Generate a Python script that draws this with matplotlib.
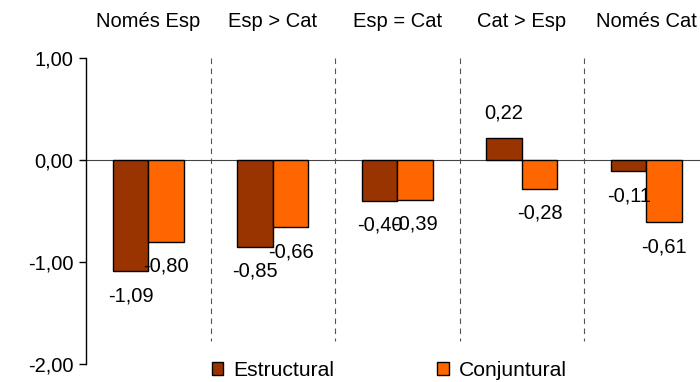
import matplotlib
matplotlib.use("Agg")
import matplotlib.pyplot as plt
from matplotlib.patches import Patch

categories = ['Només Esp', 'Esp > Cat', 'Esp = Cat', 'Cat > Esp', 'Només Cat']
estructural = [-1.09, -0.85, -0.40, 0.22, -0.11]
conjuntural = [-0.80, -0.66, -0.39, -0.28, -0.61]
yticks = [1.0, 0.0, -1.0, -2.0]

c_est = '#993300'
c_con = '#FF6600'

def fmt(v):
    return f"{v:.2f}".replace('.', ',')

plt.rcParams['font.family'] = ['Liberation Sans', 'DejaVu Sans']
fs = 14.5

fig = plt.figure(figsize=(7.0, 3.82), dpi=100)
ax = fig.add_axes([0.123, 0.047, 0.877, 0.801])

w = 0.285
x = list(range(len(categories)))
b1 = ax.bar([i - w / 2 for i in x], estructural, w, color=c_est, edgecolor='black', linewidth=1.0, zorder=3)
b2 = ax.bar([i + w / 2 for i in x], conjuntural, w, color=c_con, edgecolor='black', linewidth=1.0, zorder=3)

# etiquetes de valor
for bars, vals in ((b1, estructural), (b2, conjuntural)):
    for b, v in zip(bars, vals):
        off = 18 if v >= 0 else -17.5
        ax.annotate(fmt(v), (b.get_x() + b.get_width() / 2, v), xytext=(0, off),
                    textcoords='offset points', ha='center', va='center', fontsize=fs, zorder=5)

# separadors discontinus
for s in [0.5, 1.5, 2.5, 3.5]:
    ax.plot([s, s], [1.0, -1.77], color='#555555', lw=0.8, ls=(0, (5, 4)), zorder=1)

ax.axhline(0, color='#444444', lw=0.8, zorder=2)

# categories a dalt
for i, c in enumerate(categories):
    ax.text(i, 1.118, c, transform=ax.get_xaxis_transform(), ha='center', va='center', fontsize=fs)

ax.set_xlim(-0.5, 4.43)
ax.set_ylim(-2.0, 1.0)
ax.set_yticks(yticks)
ax.set_yticklabels([fmt(t) for t in yticks], fontsize=fs)
ax.set_xticks([])
ax.tick_params(axis='y', direction='out', length=5, width=1, color='black', pad=4)
for sp in ['top', 'right', 'bottom']:
    ax.spines[sp].set_visible(False)
ax.spines['left'].set_linewidth(1.0)
ax.spines['left'].set_color('black')

handles = [Patch(facecolor=c_est, edgecolor='black', linewidth=1.0),
           Patch(facecolor=c_con, edgecolor='black', linewidth=1.0)]
fig.legend(handles, ['Estructural', 'Conjuntural'], loc='center', bbox_to_anchor=(0.556, 0.031),
           ncol=2, frameon=False, fontsize=15.2, handlelength=0.55, handleheight=0.55,
           handletextpad=0.45, columnspacing=4.9)

fig.savefig('out.png', dpi=100)
